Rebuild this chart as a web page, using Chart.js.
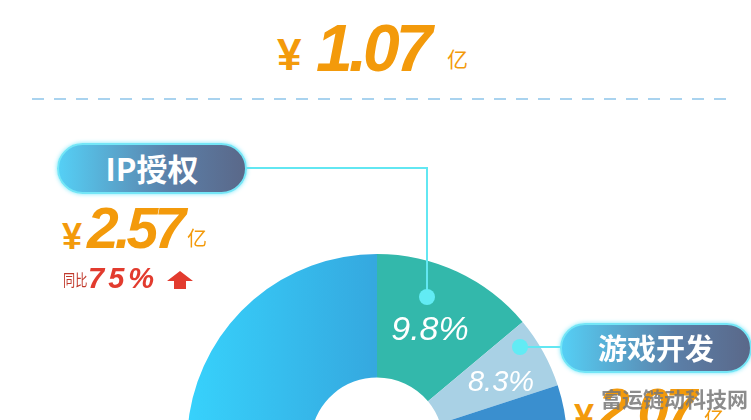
<!DOCTYPE html>
<html><head><meta charset="utf-8">
<script src="https://cdn.jsdelivr.net/npm/chart.js@4/dist/chart.umd.min.js"></script>
<style>
html,body{margin:0;padding:0;background:#fff;width:751px;height:420px;overflow:hidden;}
.a{position:absolute;white-space:nowrap;line-height:1;}
.num{font-family:"Liberation Sans",Arial,sans-serif;font-style:italic;font-weight:700;color:#f39a0b;}
.cjk{font-family:"Noto Sans CJK SC",sans-serif;}
.pill{position:absolute;box-sizing:border-box;border:2px solid #74e6f7;border-radius:26px;
 background:linear-gradient(to right,#55cff5,#5b7fa8 60%,#5a6889);box-shadow:0 0 4px rgba(110,230,250,.9);
 color:#fff;font-family:"Noto Sans CJK SC",sans-serif;font-weight:700;text-align:center;}
.ln{position:absolute;background:#62e7f2;}
.dot{position:absolute;width:16px;height:16px;border-radius:50%;background:#62ebf4;}
.pct{position:absolute;font-family:"Liberation Sans",Arial,sans-serif;font-style:italic;color:#fff;line-height:1;white-space:nowrap;transform:translate(-50%,-50%);}
#wrap{position:absolute;left:187px;top:254px;width:380px;height:380px;}
</style></head>
<body>
<div class="a num" style="left:277px;top:33px;font-size:44px;font-style:normal;">¥</div>
<div class="a num" style="left:316px;top:15px;font-size:66px;letter-spacing:-4px;">1.07</div>
<div class="a cjk" style="left:447px;top:48px;font-size:21px;color:#f39a0b;">亿</div>
<div style="position:absolute;left:32px;top:98px;width:696px;height:2px;background:repeating-linear-gradient(to right,#a9d3ef 0 12px,transparent 12px 22px);"></div>

<div id="wrap"><canvas id="c" width="380" height="380"></canvas></div>

<div class="ln" style="left:246px;top:167px;width:182px;height:2px;"></div>
<div class="ln" style="left:426px;top:167px;width:2px;height:130px;"></div>
<div class="dot" style="left:419px;top:289px;"></div>
<div class="ln" style="left:520px;top:346px;width:42px;height:2px;"></div>
<div class="dot" style="left:512px;top:339px;"></div>

<div class="pill" id="p1" style="left:57px;top:143px;width:190px;height:51px;font-size:31px;line-height:45px;"></div>
<div class="pill" id="p2" style="left:560px;top:323px;width:192px;height:50px;font-size:29px;line-height:45px;"></div>

<div class="a num" style="left:62px;top:219px;font-size:36px;font-style:normal;">¥</div>
<div class="a num" style="left:87px;top:200px;font-size:57px;letter-spacing:-4px;" id="v1"></div>
<div class="a cjk" style="left:187px;top:228px;font-size:20px;color:#f39a0b;">亿</div>
<div class="a cjk" style="left:63px;top:271px;font-size:16px;color:#c0392b;transform:scaleX(0.76);transform-origin:left top;">同比</div>
<div class="a num" style="left:88px;top:264px;font-size:29px;letter-spacing:4px;color:#e23b2e;" id="g1"></div>
<svg style="position:absolute;left:167px;top:271px" width="26" height="18" viewBox="0 0 26 18"><path d="M13 0 L26 10 L19 10 L19 18 L7 18 L7 10 L0 10 Z" fill="#e23b2e"/></svg>

<div class="a num" style="left:574px;top:400px;font-size:36px;font-style:normal;">¥</div>
<div class="a num" style="left:598px;top:381px;font-size:57px;letter-spacing:-4px;" id="v2"></div>
<div class="a cjk" style="left:704px;top:408px;font-size:20px;color:#f39a0b;">亿</div>
<div class="a cjk" style="left:601px;top:388px;font-size:21px;font-weight:700;color:rgba(120,120,120,.85);">富运链动科技网</div>

<div class="pct" id="l1" style="left:430px;top:328px;font-size:34px;"></div>
<div class="pct" id="l2" style="left:501px;top:381px;font-size:29px;"></div>

<script>
// ---- data ----
const segments = ["IP授权", "游戏开发", "其他A", "其他B", "其他C"];
const shares = [13.9, 6.1, 20, 15, 45];          // arc sizes as drawn in the picture
const shareLabels = ["9.8%", "8.3%"];            // printed percentages
const pillNames = ["IP授权", "游戏开发"];
const amounts = ["2.57", "2.07"];                // 亿元
const growth = ["75%"];

document.getElementById('p1').textContent = pillNames[0];
document.getElementById('p2').textContent = pillNames[1];
document.getElementById('v1').textContent = amounts[0];
document.getElementById('v2').textContent = amounts[1];
document.getElementById('g1').textContent = growth[0];
document.getElementById('l1').textContent = shareLabels[0];
document.getElementById('l2').textContent = shareLabels[1];

const solid = ["#33b8ab", "#a9d1e5", "#3a8fcf", "#2f7fc0", null];
new Chart(document.getElementById('c'), {
  type: 'doughnut',
  data: { labels: segments, datasets: [{ data: shares, borderWidth: 0,
    backgroundColor: (ctx) => {
      const i = ctx.dataIndex;
      if (solid[i]) return solid[i];
      const ch = ctx.chart, ca = ch.chartArea;
      if (!ca) return "#35bdf0";
      const g = ch.ctx.createLinearGradient(ca.left, 0, ca.left + ca.width / 2, 0);
      g.addColorStop(0, "#37d2fc"); g.addColorStop(1, "#35a8df");
      return g;
    } }] },
  options: { responsive: false, animation: false, cutout: '35%',
    layout: { padding: 0 },
    plugins: { legend: { display: false }, tooltip: { enabled: false } } }
});
</script>
</body></html>
